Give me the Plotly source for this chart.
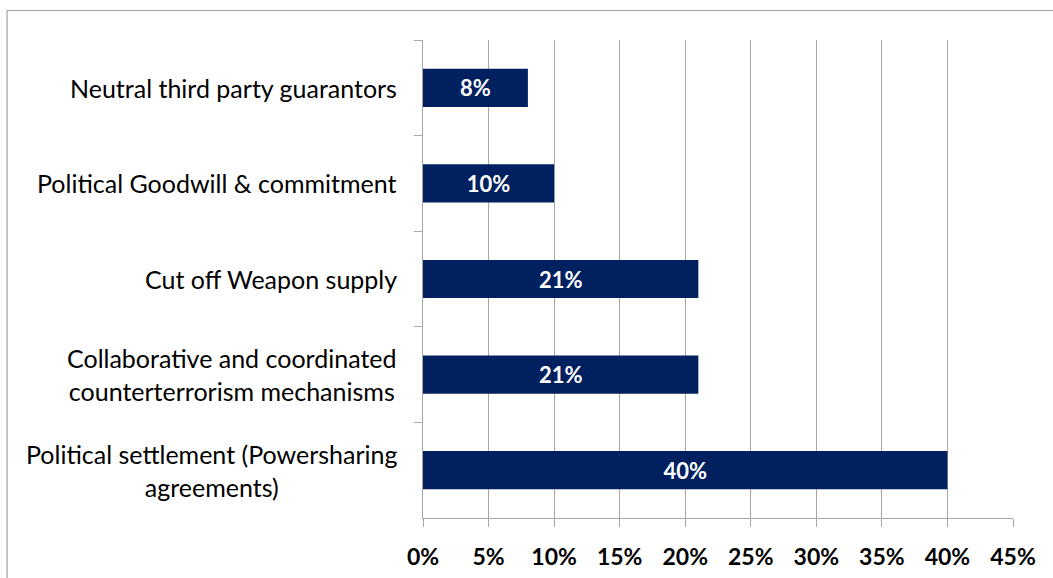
import plotly.graph_objects as go

# Categories listed top to bottom, with their shares
categories = [
    "Neutral third party guarantors",
    "Political Goodwill & commitment",
    "Cut off Weapon supply",
    "Collaborative and coordinated<br>counterterrorism mechanisms",
    "Political settlement (Powersharing<br>agreements)",
]
shares = [0.08, 0.10, 0.21, 0.21, 0.40]

FONT = "Lato"
NAVY = "#002060"
GRID = "#a6a6a6"

fig = go.Figure(
    go.Bar(
        y=categories,
        x=shares,
        orientation="h",
        width=0.4,
        marker=dict(color=NAVY, line=dict(width=0)),
        texttemplate="%{x:.0%}",
        textposition="inside",
        insidetextanchor="middle",
        textangle=0,
        constraintext="none",
        textfont=dict(family=FONT, size=22, color="white", weight="bold"),
        hoverinfo="skip",
    )
)

# Category labels drawn as centred multi-line text to the left of the axis
for cat in categories:
    fig.add_annotation(
        x=0, xref="paper", xanchor="right", xshift=-24,
        y=cat, yref="y", yanchor="middle",
        text=cat, align="center", showarrow=False,
        font=dict(family=FONT, size=25, color="black"),
    )

# Outer chart frame
fig.add_shape(
    type="rect", xref="paper", yref="paper",
    x0=-0.705, x1=1.2, y0=-0.3, y1=1.0617,
    line=dict(color="#a0a0a0", width=1.2),
)

fig.update_layout(
    width=1053,
    height=578,
    margin=dict(l=423, r=40, t=40, b=60, autoexpand=False),
    paper_bgcolor="white",
    plot_bgcolor="white",
    showlegend=False,
    font=dict(family=FONT, color="black"),
    xaxis=dict(
        range=[0, 0.45],
        dtick=0.05,
        tick0=0,
        tickformat=".0%",
        showgrid=True,
        gridcolor=GRID,
        gridwidth=1,
        zeroline=False,
        showline=True,
        linecolor=GRID,
        linewidth=1,
        ticks="outside",
        ticklen=8,
        tickcolor=GRID,
        ticklabelstandoff=10,
        tickfont=dict(family=FONT, size=23, color="black", weight="bold"),
        automargin=False,
        fixedrange=True,
    ),
    yaxis=dict(
        autorange="reversed",
        showticklabels=False,
        showgrid=False,
        zeroline=False,
        showline=True,
        linecolor=GRID,
        linewidth=1,
        ticks="outside",
        tickson="boundaries",
        ticklen=8,
        tickcolor=GRID,
        automargin=False,
        fixedrange=True,
    ),
)

fig.write_html("out.html")
